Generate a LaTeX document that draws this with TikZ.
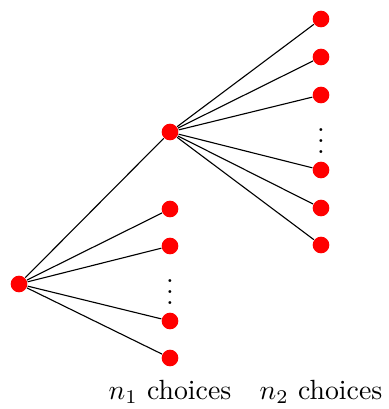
\documentclass[tikz,border=0pt]{standalone}
\begin{document}
\begin{tikzpicture}[x=0.36pt,y=-0.36pt,
  leaf/.style={circle,fill=red,inner sep=0pt,minimum size=6pt},
  gap/.style={inner sep=0pt},
  branch/.style={draw=black,line width=0.4pt}]
\useasboundingbox (0,0) rectangle (388,409);
% root and first level
\node[leaf] (r) at (19,284) {};
\node[leaf] (a1) at (170,132) {};
\node[leaf] (a2) at (170,209) {};
\node[leaf] (a3) at (170,246) {};
\node[leaf] (a4) at (170,321) {};
\node[leaf] (a5) at (170,358) {};
\node[gap] (ad) at (170,284) {$\vdots$};
% second level
\node[leaf] (b1) at (321,19) {};
\node[leaf] (b2) at (321,57) {};
\node[leaf] (b3) at (321,95) {};
\node[leaf] (b4) at (321,170) {};
\node[leaf] (b5) at (321,208) {};
\node[leaf] (b6) at (321,245) {};
\node[gap] (bd) at (321,133) {$\vdots$};
% branches
\foreach \t in {a1,a2,a3,a4,a5} \draw[branch] (r) -- (\t);
\foreach \t in {b1,b2,b3,b4,b5,b6} \draw[branch] (a1) -- (\t);
% labels
\node[anchor=base] (l1) at (170,399) {$n_1$ choices};
\node[anchor=base] (l2) at (321,399) {$n_2$ choices};
\end{tikzpicture}
\end{document}
